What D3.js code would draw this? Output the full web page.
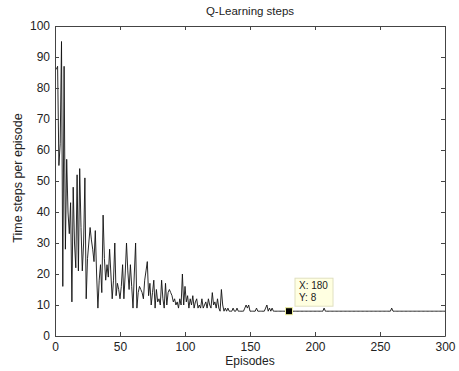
<!DOCTYPE html>
<html><head><meta charset="utf-8">
<script src="https://cdn.jsdelivr.net/npm/d3@7"></script>
<style>body{margin:0;background:#fff}svg{display:block}text{font-family:"Liberation Sans",Arial,sans-serif;fill:#222}</style>
</head><body><svg id="c" width="459" height="371"></svg>
<script>
const title = "Q-Learning steps";
const xLabel = "Episodes";
const yLabel = "Time steps per episode";
const xTicks = [0, 50, 100, 150, 200, 250, 300];
const yTicks = [0, 10, 20, 30, 40, 50, 60, 70, 80, 90, 100];
// steps for episodes 1..134
const earlySteps = [86,87,55,62,95,16,87,28,57,40,33,43,11,48,30,22,52,21,54,35,
21,30,51,12,25,30,35,31,28,24,34,20,9,18,23,14,39,25,18,23,
19,28,20,12,18,30,13,17,15,12,16,23,12,20,30,21,15,23,16,9,
20,30,9,14,16,15,14,12,18,21,24,13,17,10,14,18,9,15,11,12,
10,18,12,9,17,10,14,15,14,13,11,12,10,11,9,12,10,20,10,16,
11,13,9,12,10,13,9,11,12,9,10,9,12,9,10,11,9,12,10,9,
14,10,11,9,12,9,8,15,10,8,9,8,9,8];
const totalEpisodes = 300;
const baseSteps = 8;
// later episodes that differ from the baseline [episode, steps]
const laterBumps = [[137,9],[140,9],[146,9],[147,10],[148,9],[149,10],[155,9],[162,9],[163,10],[165,9],[167,9],[207,9],[259,9]];
const tip = {x: 180, y: 8};

const steps = [];
for (let i = 1; i <= totalEpisodes; i++) steps.push(i <= earlySteps.length ? earlySteps[i-1] : baseSteps);
laterBumps.forEach(([e, v]) => steps[e-1] = v);
const data = steps.map((v, i) => ({ep: i + 1, v}));

const svg = d3.select("#c");
const L = 55, R = 445, T = 26, B = 336;
const x = d3.scaleLinear().domain([0, 300]).range([L, R]);
const y = d3.scaleLinear().domain([0, 100]).range([B, T]);
const axisColor = "#444";

// data line
svg.append("path").datum(data)
  .attr("fill", "none").attr("stroke", "#111").attr("stroke-width", 0.9)
  .attr("d", d3.line().x(d => x(d.ep)).y(d => y(d.v)));

// box & axes
function styleAxis(g) {
  g.select(".domain").attr("stroke", axisColor);
  g.selectAll(".tick line").attr("stroke", axisColor);
  g.selectAll(".tick text").attr("font-size", 12).attr("fill", "#222");
}
svg.append("g").attr("transform", `translate(0,${B})`)
  .call(d3.axisBottom(x).tickValues(xTicks).tickSizeInner(-4).tickSizeOuter(0).tickPadding(6))
  .call(styleAxis);
svg.append("g").attr("transform", `translate(0,${T})`)
  .call(d3.axisTop(x).tickValues(xTicks).tickSizeInner(-4).tickSizeOuter(0).tickFormat(""))
  .call(styleAxis);
svg.append("g").attr("transform", `translate(${L},0)`)
  .call(d3.axisLeft(y).tickValues(yTicks).tickSizeInner(-4).tickSizeOuter(0).tickPadding(5))
  .call(styleAxis);
svg.append("g").attr("transform", `translate(${R},0)`)
  .call(d3.axisRight(y).tickValues(yTicks).tickSizeInner(-4).tickSizeOuter(0).tickFormat(""))
  .call(styleAxis);

// labels
svg.append("text").attr("x", 250).attr("y", 15).attr("text-anchor", "middle").attr("font-size", 11.5).text(title);
svg.append("text").attr("x", 250).attr("y", 365).attr("text-anchor", "middle").attr("font-size", 12).text(xLabel);
svg.append("text").attr("transform", `translate(22,${(T+B)/2 - 3}) rotate(-90)`).attr("text-anchor", "middle").attr("font-size", 12.5).text(yLabel);

// data tip
const mx = x(tip.x), my = y(tip.y);
svg.append("rect").attr("x", mx - 3.5).attr("y", my - 3.5).attr("width", 7).attr("height", 7)
  .attr("fill", "#000").attr("stroke", "#f0f0a0").attr("stroke-width", 1);
const bx = mx + 6, by = my - 33;
svg.append("rect").attr("x", bx).attr("y", by).attr("width", 38).attr("height", 28)
  .attr("fill", "#ffffe1").attr("stroke", "#e0e0c0").attr("stroke-width", 1);
svg.append("text").attr("x", bx + 4).attr("y", by + 11).attr("font-size", 10).text("X: " + tip.x);
svg.append("text").attr("x", bx + 4).attr("y", by + 23).attr("font-size", 10).text("Y: " + tip.y);
</script></body></html>
